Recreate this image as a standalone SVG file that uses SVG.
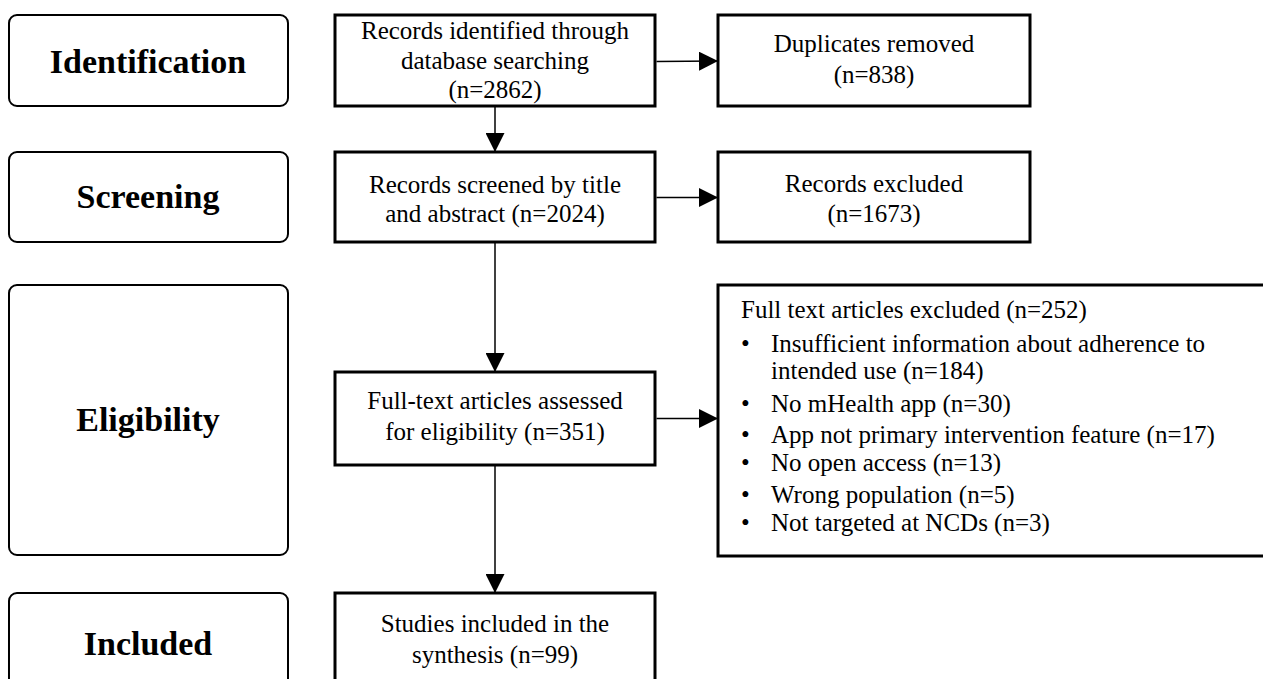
<svg xmlns="http://www.w3.org/2000/svg" width="1263" height="679" viewBox="0 0 1263 679">
<style>
.stage{fill:#fff;stroke:#000;stroke-width:2}
.box{fill:#fff;stroke:#000;stroke-width:3}
.st{font-family:"Liberation Serif","Times New Roman",serif;font-weight:bold;font-size:34px;text-anchor:middle;fill:#000}
.t{font-family:"Liberation Serif","Times New Roman",serif;font-size:25px;text-anchor:middle;fill:#000}
.l{font-family:"Liberation Serif","Times New Roman",serif;font-size:25px;fill:#000}
.c{fill:none;stroke:#000;stroke-width:1.5}
</style>
<defs>
<marker id="ah" viewBox="0 0 19 19" refX="19" refY="9.5" markerWidth="19" markerHeight="19" markerUnits="userSpaceOnUse" orient="auto">
<path d="M0,0 L19,9.5 L0,19 Z" fill="#000"/>
</marker>
</defs>
<rect width="1263" height="679" fill="#fff"/>
<g id="identification">
<rect class="stage" x="9" y="15" width="279" height="91" rx="8"/>
<text class="st" x="148" y="73">Identification</text>
</g>
<g id="screening">
<rect class="stage" x="9" y="152" width="279" height="90" rx="8"/>
<text class="st" x="148" y="208">Screening</text>
</g>
<g id="eligibility">
<rect class="stage" x="9" y="285" width="279" height="270" rx="8"/>
<text class="st" x="148" y="431">Eligibility</text>
</g>
<g id="included">
<rect class="stage" x="9" y="593" width="279" height="110" rx="8"/>
<text class="st" x="148" y="655">Included</text>
</g>
<g id="records-identified">
<rect class="box" x="335" y="15" width="320" height="91"/>
<text class="t" x="495" y="39">Records identified through</text>
<text class="t" x="495" y="69">database searching</text>
<text class="t" x="495" y="98">(n=2862)</text>
</g>
<g id="duplicates">
<rect class="box" x="718" y="15" width="312" height="91"/>
<text class="t" x="874" y="52">Duplicates removed</text>
<text class="t" x="874" y="83">(n=838)</text>
</g>
<g id="records-screened">
<rect class="box" x="335" y="152" width="320" height="90"/>
<text class="t" x="495" y="193">Records screened by title</text>
<text class="t" x="495" y="222">and abstract (n=2024)</text>
</g>
<g id="records-excluded">
<rect class="box" x="718" y="152" width="312" height="90"/>
<text class="t" x="874" y="192">Records excluded</text>
<text class="t" x="874" y="222">(n=1673)</text>
</g>
<g id="fulltext-assessed">
<rect class="box" x="335" y="372" width="320" height="93"/>
<text class="t" x="495" y="409">Full-text articles assessed</text>
<text class="t" x="495" y="440">for eligibility (n=351)</text>
</g>
<g id="fulltext-excluded">
<rect class="box" x="718" y="285" width="560" height="271"/>
<text class="l" x="741" y="318">Full text articles excluded (n=252)</text>
<text class="l" x="741" y="352">•</text>
<text class="l" x="771" y="352">Insufficient information about adherence to</text>
<text class="l" x="771" y="379">intended use (n=184)</text>
<text class="l" x="741" y="412">•</text>
<text class="l" x="771" y="412">No mHealth app (n=30)</text>
<text class="l" x="741" y="443">•</text>
<text class="l" x="771" y="443">App not primary intervention feature (n=17)</text>
<text class="l" x="741" y="471">•</text>
<text class="l" x="771" y="471">No open access (n=13)</text>
<text class="l" x="741" y="503">•</text>
<text class="l" x="771" y="503">Wrong population (n=5)</text>
<text class="l" x="741" y="531">•</text>
<text class="l" x="771" y="531">Not targeted at NCDs (n=3)</text>
</g>
<g id="studies-included">
<rect class="box" x="335" y="593" width="320" height="110"/>
<text class="t" x="495" y="632">Studies included in the</text>
<text class="t" x="495" y="663">synthesis (n=99)</text>
</g>
<g id="connectors">
<path class="c" d="M656.5,61.5 L718,61" marker-end="url(#ah)"/>
<path class="c" d="M495,106 L495,152" marker-end="url(#ah)"/>
<path class="c" d="M656.5,197.5 L718,197.5" marker-end="url(#ah)"/>
<path class="c" d="M495,242 L495,372" marker-end="url(#ah)"/>
<path class="c" d="M656.5,418.5 L718,418.5" marker-end="url(#ah)"/>
<path class="c" d="M495,465 L495,593" marker-end="url(#ah)"/>
</g>
</svg>
